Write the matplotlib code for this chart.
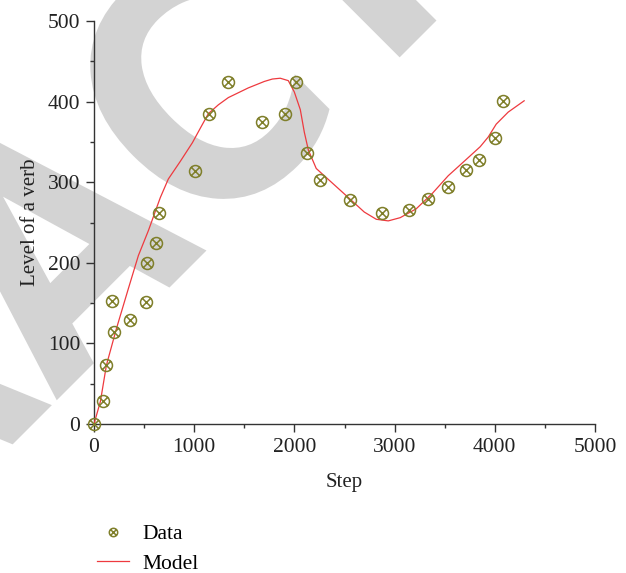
import numpy as np
import matplotlib
matplotlib.use("Agg")
import matplotlib.pyplot as plt
from matplotlib.path import Path
from matplotlib.patches import PathPatch
from matplotlib.textpath import TextPath
from matplotlib.font_manager import FontProperties
from matplotlib.transforms import Affine2D
from matplotlib.ticker import MultipleLocator

# data
data_step = [0, 88, 124, 184, 200, 359, 515, 531, 623, 646, 1006, 1149, 1333, 1676,
             1903, 2011, 2123, 2255, 2550, 2873, 3140, 3336, 3528, 3711, 3839, 3999, 4086]
data_level = [0, 29, 73, 152, 114, 129, 151, 200, 224, 262, 314, 385, 424, 375,
              385, 424, 336, 303, 278, 262, 266, 279, 294, 315, 328, 355, 401]

model_step = [0, 64, 124, 223, 343, 443, 543, 662, 742, 862, 982, 1061, 1141, 1241,
              1341, 1540, 1700, 1780, 1859, 1939, 1999, 2059, 2099, 2139, 2218, 2378,
              2538, 2697, 2817, 2937, 3056, 3216, 3376, 3535, 3695, 3854, 3934, 4014,
              4134, 4293]
model_level = [0, 28, 73, 118, 168, 209, 240, 281, 304, 326, 349, 367, 385, 396,
               405, 417, 425, 428, 429, 426, 412, 390, 362, 340, 317, 299,
               281, 263, 254, 252, 256, 267, 286, 308, 326, 344, 356, 372,
               387, 401]

plt.rcParams['font.family'] = ['Liberation Serif', 'DejaVu Serif']

W, H = 626, 573
fig = plt.figure(figsize=(W / 100, H / 100), dpi=100)
ax = fig.add_axes([94 / W, 1 - 424 / H, (595 - 94) / W, (424 - 21) / H])
ax.set_facecolor('none')

# grey watermark behind the chart
fp = FontProperties(family='DejaVu Sans', weight='bold')
tp = TextPath((0, 0), "RETRACTED", size=326, prop=fp)
tr = (Affine2D().scale(0.85, 1.0).translate(-1050, 0).rotate_deg(45)
      .translate(229, 345).scale(1 / W, 1 / H) + fig.transFigure)
wm = PathPatch(tp, facecolor='#d3d3d3', edgecolor='none', transform=tr, zorder=-5)
fig.add_artist(wm)

# circle with a cross inside
circ = Path.unit_circle()
d = np.sqrt(0.5)
cross = Path([(-d, -d), (d, d), (-d, d), (d, -d)],
             [Path.MOVETO, Path.LINETO, Path.MOVETO, Path.LINETO])
mark = Path.make_compound_path(circ, cross)

olive = '#7f7f2a'
ax.plot(data_step, data_level, linestyle='none', marker=mark, markersize=8.6,
        markerfacecolor='none', markeredgecolor=olive, markeredgewidth=1.1,
        clip_on=False, zorder=4, label='Data')
ax.plot(model_step, model_level, color='#ee3a3f', lw=0.9, zorder=3, label='Model')

ax.set_xlim(0, 5000)
ax.set_ylim(0, 500)
ax.xaxis.set_major_locator(MultipleLocator(1000))
ax.xaxis.set_minor_locator(MultipleLocator(500))
ax.yaxis.set_major_locator(MultipleLocator(100))
ax.yaxis.set_minor_locator(MultipleLocator(50))

for s in ['top', 'right']:
    ax.spines[s].set_visible(False)
for s in ['left', 'bottom']:
    ax.spines[s].set_color('#333333')
    ax.spines[s].set_linewidth(1.0)

ax.tick_params(which='major', length=5.8, width=1.0, color='#333333',
               labelsize=15.5, labelcolor='#222222', pad=4, direction='out')
ax.tick_params(which='minor', length=2.9, width=1.0, color='#333333', direction='out')

ax.set_xlabel('Step', fontsize=15, color='#222222', labelpad=12)
ax.set_ylabel('Level of a verb', fontsize=15, color='#222222', labelpad=6)

fig.legend(loc='upper left', bbox_to_anchor=(97 / W, 1 - 524 / H), frameon=False,
           fontsize=15.5, handlelength=1.5, handletextpad=0.6, labelspacing=0.45,
           borderpad=0, borderaxespad=0, markerscale=0.7)

fig.savefig('out.png', dpi=100)
